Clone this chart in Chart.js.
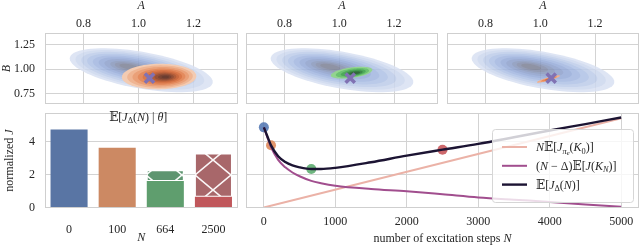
<!DOCTYPE html>
<html>
<head>
<meta charset="utf-8">
<script src="https://cdn.jsdelivr.net/npm/chart.js@4.4.0/dist/chart.umd.min.js"></script>
<style>
body{margin:0;background:#fff;width:640px;height:245px;overflow:hidden;position:relative}
canvas{position:absolute}
</style>
</head>
<body>
<canvas id="kde1" width="239" height="105" style="left:0;top:0"></canvas>
<canvas id="kde2" width="200" height="105" style="left:240px;top:0"></canvas>
<canvas id="kde3" width="199" height="105" style="left:441px;top:0"></canvas>
<canvas id="bars" width="239" height="135" style="left:0;top:110px"></canvas>
<canvas id="lines" width="400" height="135" style="left:240px;top:110px"></canvas>
<script>
// top row: parameter space
var aTicks = [0.8, 1.0, 1.2];
var bTicks = [0.75, 1.00, 1.25];
var trueA = 1.04, trueB = 0.91;

// density blobs (center, semi axes, densest point) in A/B units
var priorBlob = {center:[1.01,0.99], peak:[0.96,1.03], u:[0.26,-0.12], v:[0.0,0.19],
    levels:[1,0.9,0.8,0.7,0.6,0.5,0.4,0.3,0.22,0.14],
    colors:['#d9e1f2','#ccd7ee','#bdcce9','#aec1e5','#a1b6e0','#95aad8','#8c9fcb','#8796ba','#828ba8','#7c8195'], alpha:0.85};
var post100 = {center:[1.075,0.925], peak:[1.1,0.92], u:[0.135,0.015], v:[-0.01,0.13],
    levels:[1,0.88,0.76,0.64,0.53,0.43,0.34,0.26,0.18,0.1],
    colors:['#f3cbb2','#efb593','#eaa078','#e48b5e','#da784a','#c9693f','#b05d3a','#955037','#7c4534','#6a3d31'], alpha:1};
var post664 = {center:[1.045,0.965], peak:[1.06,0.96], u:[0.075,0.035], v:[-0.01,0.05],
    levels:[1,0.8,0.6,0.42,0.26],
    colors:['#93d48f','#6cc271','#4ea95a','#3d8a4a','#33693d'], alpha:1};
var post2500 = {center:[1.03,0.9], peak:[1.035,0.9], u:[0.042,0.035], v:[-0.004,0.014],
    levels:[1,0.7,0.4],
    colors:['#f2b08c','#e58a5c','#d06a42'], alpha:1};

// bottom left: bars
var barLabels = ['0','100','664','2500'];
var barSolid = [4.72, 3.62, 1.6, 0.65];
var barHatched = [null, 0.1, 0.66, 2.62];
var costTicks = [0, 2, 4];

// bottom right: curves
var stepsN =     [0, 50, 100, 200, 300, 400, 500, 664, 800, 1000, 1500, 2000, 2500, 3000, 3500, 4000, 4500, 5000];
var totalCost =  [4.85, 4.3, 3.76, 3.1, 2.75, 2.55, 2.43, 2.33, 2.33, 2.4, 2.74, 3.14, 3.5, 3.85, 4.25, 4.66, 5.05, 5.45];
var explCost =   [4.85, 4.25, 3.65, 2.88, 2.43, 2.12, 1.89, 1.61, 1.47, 1.32, 1.12, 0.98, 0.8, 0.61, 0.47, 0.34, 0.18, 0.05];
var linN = [0, 5000];
var linCost = [0, 5.4];
var dotN = [0, 100, 664, 2500];
var dotCost = [4.85, 3.77, 2.33, 3.5];
var stepTicks = [0, 1000, 2000, 3000, 4000, 5000];

var serif = '"Liberation Serif", "DejaVu Serif", serif';
var bbFamily = '"DejaVu Serif", "DejaVu Sans", serif';
Chart.defaults.font.family = serif;
Chart.defaults.font.size = 12;
Chart.defaults.color = '#262626';
var gridColor = '#d3d3d3';
var tickFont = {family:serif, size:12};

function fixBox(w, h){
    return function(s){
        if (w != null) s.width = w;
        if (h != null) s.height = h;
        s.paddingLeft = 0; s.paddingRight = 0; s.paddingTop = 0; s.paddingBottom = 0;
    };
}

// nudge layout padding until the plot area sits where it should
function pinArea(chart, box){
    var p = chart.options.layout.padding;
    for (var i = 0; i < 3; i++){
        var a = chart.chartArea;
        var dt = box[1] - a.top, db = box[3] - a.bottom, dl = box[0] - a.left, dr = box[2] - a.right;
        if (Math.abs(dt) + Math.abs(db) + Math.abs(dl) + Math.abs(dr) < 0.4) break;
        p.top += dt; p.bottom -= db; p.left += dl; p.right -= dr;
        chart.update();
    }
}

function drawRich(ctx, segs, x, y, size, align){
    var sc = [1, 0.7, 0.55], dy = [0, 0.22, 0.36];
    function font(s, lv){ return (s[1]=='i' ? 'italic ' : '') + (size*sc[lv]) + 'px ' + (s[1]=='b' ? bbFamily : serif); }
    var w = 0;
    segs.forEach(function(s){ ctx.font = font(s, s[2]||0); w += ctx.measureText(s[0]).width; });
    var cx = align=='center' ? x - w/2 : x;
    ctx.textAlign = 'left'; ctx.textBaseline = 'alphabetic';
    segs.forEach(function(s){
        var lv = s[2]||0;
        ctx.font = font(s, lv);
        ctx.fillText(s[0], cx, y + size*dy[lv]);
        cx += ctx.measureText(s[0]).width;
    });
}

var framePlugin = {
    id:'frame',
    afterDatasetsDraw: function(chart){
        var a = chart.chartArea, c = chart.ctx;
        c.save();
        c.strokeStyle = '#cfcfcf'; c.lineWidth = 1;
        c.strokeRect(Math.round(a.left)+0.5, Math.round(a.top)+0.5, Math.round(a.right-a.left)-1, Math.round(a.bottom-a.top)-1);
        c.restore();
    }
};

var blobPlugin = {
    id:'blobs',
    beforeDatasetsDraw: function(chart, args, opts){
        var ctx = chart.ctx, a = chart.chartArea, xs = chart.scales.x, ys = chart.scales.y;
        ctx.save();
        ctx.beginPath(); ctx.rect(a.left, a.top, a.right-a.left, a.bottom-a.top); ctx.clip();
        opts.list.forEach(function(b){
            var off = document.createElement('canvas');
            off.width = chart.width; off.height = chart.height;
            var oc = off.getContext('2d');
            b.levels.forEach(function(s, k){
                var cA = b.peak[0] + (b.center[0]-b.peak[0])*s;
                var cB = b.peak[1] + (b.center[1]-b.peak[1])*s;
                oc.beginPath();
                for (var i = 0; i <= 72; i++){
                    var t = i/72*2*Math.PI;
                    var pa = cA + s*(Math.cos(t)*b.u[0] + Math.sin(t)*b.v[0]);
                    var pb = cB + s*(Math.cos(t)*b.u[1] + Math.sin(t)*b.v[1]);
                    var px = xs.getPixelForValue(pa), py = ys.getPixelForValue(pb);
                    if (i==0) oc.moveTo(px, py); else oc.lineTo(px, py);
                }
                oc.closePath();
                oc.fillStyle = b.colors[k];
                oc.fill();
            });
            ctx.globalAlpha = b.alpha;
            ctx.drawImage(off, 0, 0);
            ctx.globalAlpha = 1;
        });
        ctx.restore();
    }
};

function kdeChart(id, list, showY, left, right){
    var ch = new Chart(document.getElementById(id), {
        type:'scatter',
        data:{datasets:[{
            data:[{x:trueA, y:trueB}],
            pointStyle:'crossRot', pointRadius:6.5, pointBorderWidth:3.5,
            pointBorderColor:'#8172b3', pointBackgroundColor:'#8172b3'
        }]},
        options:{
            responsive:false, animation:false, events:[],
            layout:{autoPadding:false, padding:{left:0, right:1, top:0, bottom:1}},
            plugins:{legend:{display:false}, tooltip:{enabled:false}, blobs:{list:list}},
            scales:{
                x:{type:'linear', position:'top', min:0.66, max:1.36,
                    afterBuildTicks:function(s){ s.ticks = aTicks.map(function(v){return {value:v};}); },
                    afterFit:fixBox(null, 33),
                    ticks:{padding:2, font:tickFont, maxRotation:0, callback:function(v){ return v.toFixed(1); }},
                    grid:{color:gridColor, drawTicks:false}, border:{display:false},
                    title:{display:true, text:'A', font:{family:serif, size:12, style:'italic', lineHeight:0.9}, padding:0}},
                y:{type:'linear', min:0.645, max:1.37,
                    afterBuildTicks:function(s){ s.ticks = bTicks.map(function(v){return {value:v};}); },
                    afterFit:fixBox(left, null),
                    ticks:{display:showY, padding:10, font:tickFont, callback:function(v){ return v.toFixed(2); }},
                    grid:{color:gridColor, drawTicks:false}, border:{display:false},
                    title:{display:showY, text:'B', font:{family:serif, size:12, style:'italic'}, padding:0}}
            }
        },
        plugins:[blobPlugin, framePlugin]
    });
    pinArea(ch, [left, 33, right, 104]);
    return ch;
}

kdeChart('kde1', [priorBlob, post100], true, 45, 237.5);
kdeChart('kde2', [priorBlob, post664], false, 6, 198);
kdeChart('kde3', [priorBlob, post2500], false, 6, 198);

function makeHatch(color, tx, ty){
    var c = document.createElement('canvas'); c.width = 36; c.height = 30;
    var g = c.getContext('2d');
    g.fillStyle = color; g.fillRect(0, 0, 36, 30);
    g.strokeStyle = 'rgba(255,255,255,0.95)'; g.lineWidth = 1.6;
    g.beginPath(); g.moveTo(0,0); g.lineTo(36,30); g.moveTo(36,0); g.lineTo(0,30); g.stroke();
    var p = g.createPattern(c, 'repeat');
    p.setTransform(new DOMMatrix([1,0,0,1,tx,ty]));
    return p;
}

var barTitlePlugin = {
    id:'barTitle',
    afterDraw: function(chart){
        var ctx = chart.ctx, a = chart.chartArea;
        ctx.save(); ctx.fillStyle = '#262626';
        drawRich(ctx, [['𝔼','b'],['[',''],['J','i'],['Δ','',1],['(',''],['N','i'],[')',''],[' | ',''],['θ','i'],[']','']],
            (a.left+a.right)/2 - 3, a.top + 7.5, 12, 'center');
        ctx.translate(9, (a.top+a.bottom)/2);
        ctx.rotate(-Math.PI/2);
        drawRich(ctx, [['normalized ',''],['J','i']], 0, 4, 12, 'center');
        ctx.restore();
    }
};

var barChart = new Chart(document.getElementById('bars'), {
    type:'bar',
    data:{labels:barLabels, datasets:[
        {data:barSolid, backgroundColor:['#5975a4','#cc8963','#5f9e6e','#c0575b'], borderWidth:0},
        {data:barHatched, backgroundColor:[
            makeHatch('#5975a4',0,0), makeHatch('#c58a6a',0,0), makeHatch('#5e9570',2,5), makeHatch('#a8676a',-3,20)],
            borderColor:'rgba(255,255,255,0.9)', borderWidth:1, borderSkipped:false}
    ]},
    options:{
        responsive:false, animation:false, events:[],
        barPercentage:0.77, categoryPercentage:1.0,
        layout:{autoPadding:false, padding:{left:0, right:1.5, top:3, bottom:0}},
        plugins:{legend:{display:false}, tooltip:{enabled:false}},
        scales:{
            x:{stacked:true, grid:{display:false}, border:{display:false},
                afterFit:fixBox(null, 37),
                ticks:{padding:7, font:tickFont, maxRotation:0},
                title:{display:true, text:'N', font:{family:serif, size:12, style:'italic'}, padding:0}},
            y:{stacked:true, min:-0.03, max:5.72,
                afterBuildTicks:function(s){ s.ticks = costTicks.map(function(v){return {value:v};}); },
                afterFit:fixBox(45, null),
                ticks:{padding:10, font:tickFont},
                grid:{drawTicks:false, color:function(c){ return c.tick && c.tick.value == 0 ? 'rgba(0,0,0,0)' : gridColor; }},
                border:{display:false}}
        }
    },
    plugins:[framePlugin, barTitlePlugin]
});
pinArea(barChart, [45, 3, 237.5, 98]);

var legendItems = [
    {color:'#ebb2a7', width:2, segs:[['N','i'],['𝔼','b'],['[',''],['J','i'],['π','i',1],['e','i',2],['(',''],['K','i'],['0','',1],[')',''],[']','']]},
    {color:'#a14e8e', width:2, segs:[['(',''],['N','i'],[' − Δ)',''],['𝔼','b'],['[',''],['J','i'],['(',''],['K','i'],['N','i',1],[')',''],[']','']]},
    {color:'#1c1433', width:2.4, segs:[['𝔼','b'],['[',''],['J','i'],['Δ','',1],['(',''],['N','i'],[')',''],[']','']]}
];

var lineExtras = {
    id:'lineExtras',
    afterDraw: function(chart){
        var ctx = chart.ctx, a = chart.chartArea;
        ctx.save();
        var bx = a.right - 147, by = a.top + 16, bw = 141, bh = 73;
        ctx.beginPath();
        ctx.roundRect(bx+0.5, by+0.5, bw, bh, 3);
        ctx.fillStyle = 'rgba(255,255,255,0.8)'; ctx.fill();
        ctx.strokeStyle = '#d6d6d6'; ctx.lineWidth = 1; ctx.stroke();
        legendItems.forEach(function(it, i){
            var y = by + 18 + i*18.8;
            ctx.strokeStyle = it.color; ctx.lineWidth = it.width;
            ctx.beginPath(); ctx.moveTo(bx+10, y); ctx.lineTo(bx+35, y); ctx.stroke();
            ctx.fillStyle = '#262626';
            drawRich(ctx, it.segs, bx+44, y+4, 12, 'left');
        });
        ctx.fillStyle = '#262626';
        drawRich(ctx, [['number of excitation steps ',''],['N','i']], (a.left+a.right)/2, 132, 12, 'center');
        ctx.restore();
    }
};

function pts(xs, ys){ return xs.map(function(x, i){ return {x:x, y:ys[i]}; }); }

var lineChart = new Chart(document.getElementById('lines'), {
    type:'line',
    data:{datasets:[
        {data:pts(stepsN, totalCost), borderColor:'#1c1433', borderWidth:2.4, pointRadius:0, cubicInterpolationMode:'monotone', order:1},
        {data:pts(stepsN, explCost), borderColor:'#a14e8e', borderWidth:2, pointRadius:0, cubicInterpolationMode:'monotone', order:2},
        {data:pts(linN, linCost), borderColor:'#ebb2a7', borderWidth:2, pointRadius:0, order:3},
        {type:'scatter', data:pts(dotN, dotCost), pointRadius:5, pointBorderWidth:0,
            pointBackgroundColor:['rgba(76,114,176,0.85)','rgba(221,132,82,0.85)','rgba(85,168,104,0.85)','rgba(196,78,82,0.85)'], order:4}
    ]},
    options:{
        responsive:false, animation:false, events:[],
        layout:{autoPadding:false, padding:{left:0, right:1, top:3, bottom:0}},
        plugins:{legend:{display:false}, tooltip:{enabled:false}},
        scales:{
            x:{type:'linear', min:-250, max:5250,
                afterBuildTicks:function(s){ s.ticks = stepTicks.map(function(v){return {value:v};}); },
                afterFit:fixBox(null, 37),
                ticks:{padding:7, font:tickFont, maxRotation:0, callback:function(v){ return String(v); }},
                grid:{color:gridColor, drawTicks:false}, border:{display:false}},
            y:{type:'linear', min:-0.03, max:5.72,
                afterBuildTicks:function(s){ s.ticks = costTicks.map(function(v){return {value:v};}); },
                afterFit:fixBox(6, null),
                ticks:{display:false},
                grid:{drawTicks:false, color:function(c){ return c.tick && c.tick.value == 0 ? 'rgba(0,0,0,0)' : gridColor; }},
                border:{display:false}}
        }
    },
    plugins:[framePlugin, lineExtras]
});
pinArea(lineChart, [6, 3, 399, 98]);
</script>
</body>
</html>
